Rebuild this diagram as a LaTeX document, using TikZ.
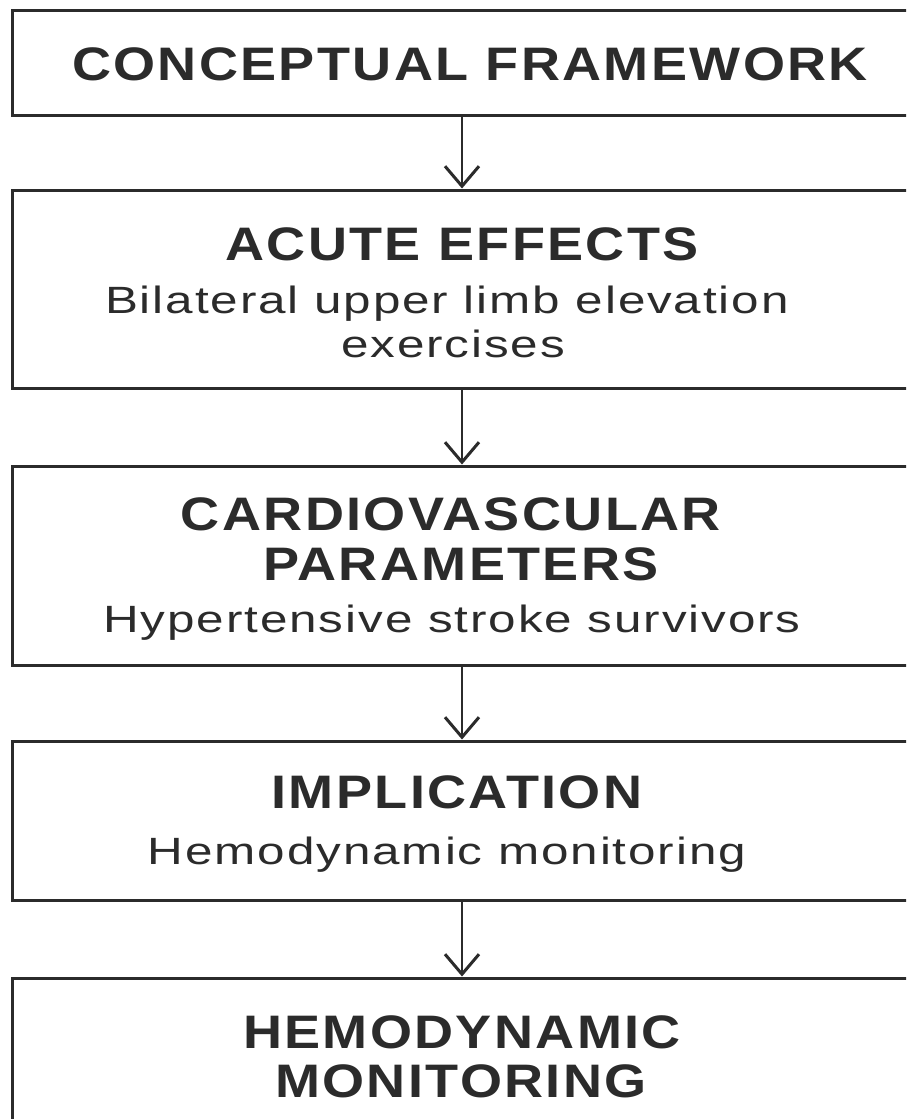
\documentclass[tikz,border=0pt]{standalone}
\usepackage{fontspec}
\setmainfont{Liberation Sans}
\newfontfamily\titlefont[FakeStretch=1.15,LetterSpace=5,BoldFont={Liberation Sans Bold},BoldFeatures={FakeStretch=1.15,LetterSpace=5}]{Liberation Sans}
\newfontfamily\subfont[FakeStretch=1.3,LetterSpace=5]{Liberation Sans}
\usetikzlibrary{arrows.meta}
\definecolor{ink}{HTML}{2B2B2B}
\begin{document}
\begin{tikzpicture}[x=1pt,y=-1pt,
  box/.style={draw=ink, line width=3pt, minimum width=900pt, inner sep=0pt},
  ttl/.style={text=ink, font=\titlefont\bfseries\fontsize{47}{52}\selectfont, anchor=base, inner sep=0pt},
  sub/.style={text=ink, font=\subfont\fontsize{38}{44}\selectfont, anchor=base, inner sep=0pt},
  conn/.style={draw=ink, line width=2pt, -{Straight Barb[length=20pt,width=34pt,line width=3pt]}}]
\useasboundingbox (0,0) rectangle (906,1119);
\clip (0,0) rectangle (906,1119);
\fill[white] (0,0) rectangle (906,1119);
% boxes
\node[box, minimum height=105pt] (b1) at (462,62.5) {};
\node[box, minimum height=198pt] (b2) at (462,289) {};
\node[box, minimum height=199pt] (b3) at (462,565.5) {};
\node[box, minimum height=159pt] (b4) at (462,820.5) {};
\node[box, minimum height=162pt] (b5) at (462,1059) {};
% texts
\node[ttl] (t1) at (470,80) {CONCEPTUAL FRAMEWORK};
\node[ttl] (t2) at (462,260) {ACUTE EFFECTS};
\node[sub] (s2a) at (447,313) {Bilateral upper limb elevation};
\node[sub] (s2b) at (453,357) {exercises};
\node[ttl] (t3a) at (451,530) {CARDIOVASCULAR};
\node[ttl] (t3b) at (461,580) {PARAMETERS};
\node[sub] (s3) at (452,632) {Hypertensive stroke survivors};
\node[ttl] (t4) at (457,808) {IMPLICATION};
\node[sub] (s4) at (447,864) {Hemodynamic monitoring};
\node[ttl] (t5a) at (462,1048) {HEMODYNAMIC};
\node[ttl] (t5b) at (461,1097) {MONITORING};
% connectors
\draw[conn] (b1.south) -- (b2.north);
\draw[conn] (b2.south) -- (b3.north);
\draw[conn] (b3.south) -- (b4.north);
\draw[conn] (b4.south) -- (b5.north);
\end{tikzpicture}
\end{document}
